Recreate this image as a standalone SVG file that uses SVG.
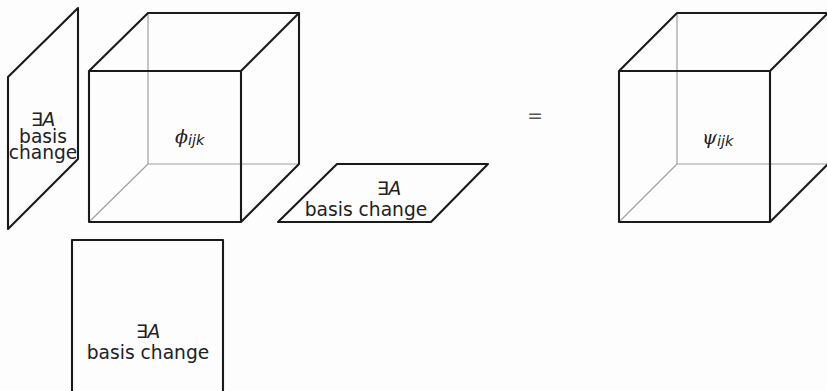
<svg xmlns="http://www.w3.org/2000/svg" width="827" height="391" viewBox="0 0 827 391">
<style>
.bg{fill:#fdfdfd}
.thick{fill:none;stroke:#1a1a1a;stroke-width:2.1;stroke-linejoin:round;stroke-linecap:round}
.thin{fill:none;stroke:#a0a0a0;stroke-width:1.2}
.t{font-family:"DejaVu Sans",sans-serif;font-size:18.67px;fill:#222;text-anchor:middle}
.m{font-style:italic}
.sym{font-family:"DejaVu Serif","DejaVu Sans",serif;font-style:italic;font-size:19px;fill:#222}
.sub{font-family:"DejaVu Sans",sans-serif;font-style:italic;font-size:14.5px;fill:#222}
</style>
<rect class="bg" x="0" y="0" width="827" height="391"/>
<g id="cube-phi">
<path class="thin" d="M148,13 V164 H299 M89,222 L148,164"/>
<path class="thick" d="M89,71 H241 V222 H89 Z M89,71 L148,13 H299 V164 L241,222 M241,71 L299,13"/>
<text class="sym" x="175" y="143">ϕ<tspan class="sub" dy="2">ijk</tspan></text>
</g>
<g id="plane-left">
<path class="thick" d="M8,77 L78,8 V159 L8,229 Z"/>
<text class="t" x="43" y="126"><tspan>∃</tspan><tspan class="m">A</tspan></text>
<text class="t" x="43" y="143">basis</text>
<text class="t" x="43" y="159">change</text>
</g>
<g id="plane-bottom-flat">
<path class="thick" d="M337,164 H488 L431,222 H278 Z"/>
<text class="t" x="389" y="195"><tspan>∃</tspan><tspan class="m">A</tspan></text>
<text class="t" x="366" y="216">basis change</text>
</g>
<g id="square-bottom">
<path class="thick" d="M72,393 V240 H223 V393"/>
<text class="t" x="148" y="338"><tspan>∃</tspan><tspan class="m">A</tspan></text>
<text class="t" x="148" y="359">basis change</text>
</g>
<g id="equals">
<text class="t" x="535" y="122" style="fill:#555">=</text>
</g>
<g id="cube-psi">
<path class="thin" d="M677,13 V164 H828 M619,222 L677,164"/>
<path class="thick" d="M619,71 H770 V222 H619 Z M619,71 L677,13 H828 M828,164 L770,222 M770,71 L828,13"/>
<text class="sym" x="702" y="144">ψ<tspan class="sub" dy="2">ijk</tspan></text>
</g>
<g id="connectors"></g>
</svg>
